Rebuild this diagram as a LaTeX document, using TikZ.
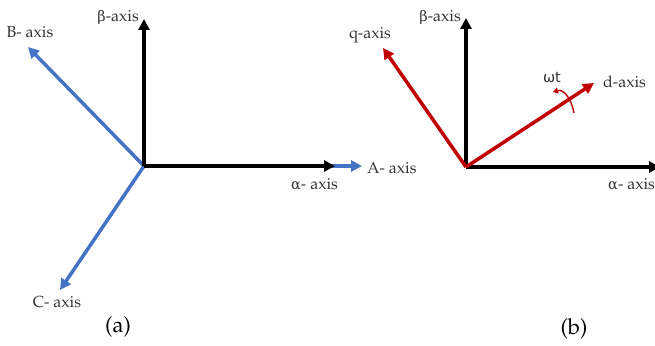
\documentclass[tikz,border=0pt]{standalone}
\usepackage{fontspec}
\newfontfamily\grk{DejaVu Serif}
\newfontfamily\grksans{DejaVu Sans}
\newcommand{\pal}{\fontencoding{T1}\fontfamily{ppl}\selectfont}
\usetikzlibrary{arrows.meta}
\definecolor{axblue}{HTML}{4472C4}
\definecolor{axred}{HTML}{C00000}
\tikzset{
  blackax/.style={line width=3.5pt, black, -{Triangle[length=11pt,width=11pt]}},
  blueax/.style={line width=3.5pt, axblue, -{Triangle[length=11pt,width=11pt]}},
  redax/.style={line width=3.5pt, axred, -{Triangle[length=11pt,width=11pt]}},
  lbl/.style={font=\fontsize{16}{18}\pal, inner sep=0pt, text=black!80},
  captxt/.style={font=\fontsize{22}{24}\pal, inner sep=0pt}
}
\newcommand{\gb}{{\grk\fontsize{14.5}{16}\selectfont β}}
\newcommand{\ga}{{\grk\fontsize{14.5}{16}\selectfont α}}
\begin{document}
\begin{tikzpicture}[x=1pt,y=-1pt]
\useasboundingbox (0,0) rectangle (655,345);
% (a)
\coordinate (oa) at (144,166);
\coordinate (aA) at (362,166);
\coordinate (aB) at (28,47);
\coordinate (aC) at (60,290);
\coordinate (aAl) at (335,166);
\coordinate (aBe) at (144,19);
\draw[blueax] (oa) -- (aA);
\draw[blueax] (oa) -- (aB);
\draw[blueax] (oa) -- (aC);
\draw[blackax] (oa) -- (aAl);
\draw[blackax] (oa) -- (aBe);
\node[lbl, anchor=east] (lbeta1) at (139,17) {\gb-axis};
\node[lbl] (lB) at (30,32) {B- axis};
\node[lbl, anchor=west] (lA) at (367,168) {A- axis};
\node[lbl, anchor=west] (lal1) at (291,184) {\ga- axis};
\node[lbl] (lC) at (57,302) {C- axis};
\node[captxt] (capa) at (118,327) {(a)};
% (b)
\coordinate (ob) at (466,167);
\coordinate (bAl) at (660,167);
\coordinate (bBe) at (466,18);
\coordinate (bq) at (383,48);
\coordinate (bd) at (594,83);
\draw[blackax] (ob) -- (bAl);
\draw[blackax] (ob) -- (bBe);
\draw[redax] (ob) -- (bq);
\draw[redax] (ob) -- (bd);
\coordinate (ws) at (574,113);
\coordinate (we) at (553,92);
\draw[axred, line width=1.4pt, -{Triangle[length=5pt,width=6pt]}] (ws) .. controls (571,97) and (563,89) .. (we);
\node[lbl, anchor=east] (lbeta2) at (461,17) {\gb-axis};
\node[lbl] (lq) at (370,35) {q-axis};
\node[lbl, anchor=west] (ld) at (603,82) {d-axis};
\node[lbl, font=\grksans\fontsize{14.5}{16}\selectfont] (lwt) at (552,78) {ωt};
\node[lbl, anchor=west] (lal2) at (608,184) {\ga- axis};
\node[captxt] (capb) at (574,329) {(b)};
\end{tikzpicture}
\end{document}
